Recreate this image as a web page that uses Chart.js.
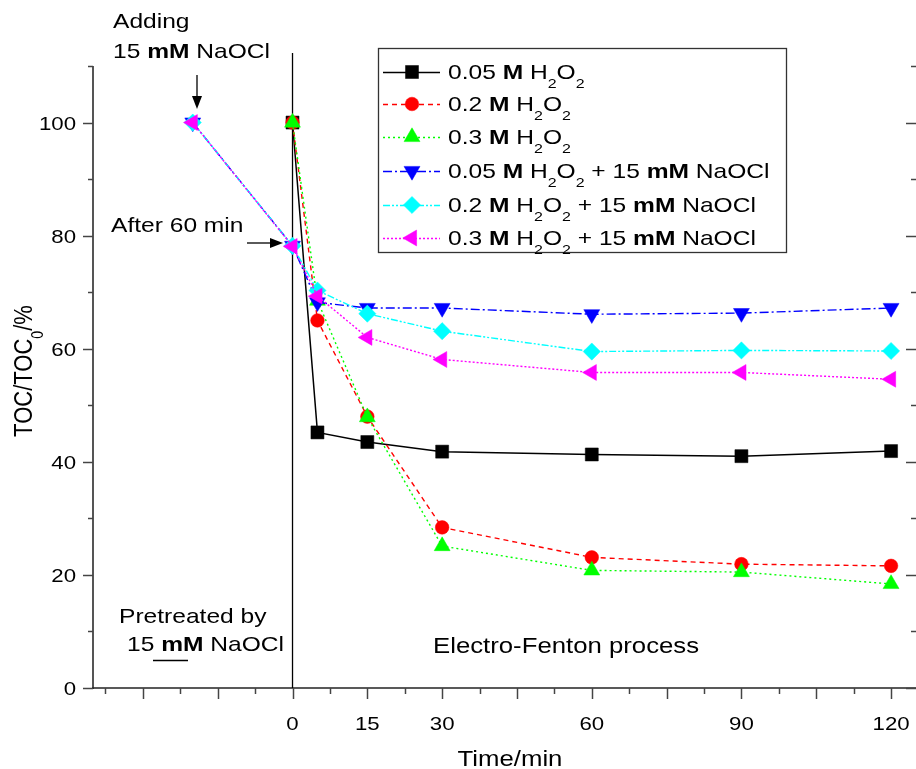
<!DOCTYPE html>
<html>
<head>
<meta charset="utf-8">
<script src="https://cdn.jsdelivr.net/npm/chart.js@4.4.0/dist/chart.umd.min.js"></script>
<style>
html,body{margin:0;padding:0;background:#fff;}
#wrap{width:916px;height:769px;}
</style>
</head>
<body>
<div id="wrap"><canvas id="c" width="916" height="769"></canvas></div>
<script>
// ---- data ----
const timeEF = [0, 5, 15, 30, 60, 90, 120];
const timeNaOCl = [-20, 0, 5, 15, 30, 60, 90, 120];
const h2o2_005 = [100, 45.2, 43.5, 41.8, 41.3, 41.0, 41.9];
const h2o2_02 = [100, 65.0, 48.0, 28.4, 23.1, 21.9, 21.6];
const h2o2_03 = [100, 68.5, 47.9, 25.1, 20.8, 20.5, 18.4];
const naocl_005 = [100, 78.2, 68.2, 67.2, 67.2, 66.1, 66.3, 67.2];
const naocl_02 = [100, 78.2, 70.3, 66.2, 63.1, 59.5, 59.7, 59.6];
const naocl_03 = [100, 78.1, 69.3, 62.0, 58.1, 55.8, 55.8, 54.6];
const concentrations = ['0.05', '0.2', '0.3', '0.05', '0.2', '0.3'];
const xTickLabels = [0, 15, 30, 60, 90, 120];
const yTickLabels = [0, 20, 40, 60, 80, 100];

const FONT = '"Liberation Sans", Arial, sans-serif';
const STRETCH = 1.17;

function pts(xs, ys) { return xs.map((x, i) => ({x: x, y: ys[i]})); }

const styles = [
  {color: '#000000', dash: [], width: 1.5, ps: 'rect', r: 9.2, rot: 0},
  {color: '#ff0000', dash: [5, 4], width: 1.4, ps: 'circle', r: 6.8, rot: 0},
  {color: '#00ff00', dash: [2, 3], width: 1.4, ps: 'triangle', r: 9.2, rot: 0},
  {color: '#0000ff', dash: [9, 3, 2, 3], width: 1.4, ps: 'triangle', r: 9.2, rot: 180},
  {color: '#00ffff', dash: [7, 2, 2, 2, 2, 2], width: 1.4, ps: 'rectRot', r: 8.6, rot: 0},
  {color: '#ff00ff', dash: [2, 2], width: 1.4, ps: 'triangle', r: 9.2, rot: 270}
];
const seriesData = [
  pts(timeEF, h2o2_005), pts(timeEF, h2o2_02), pts(timeEF, h2o2_03),
  pts(timeNaOCl, naocl_005), pts(timeNaOCl, naocl_02), pts(timeNaOCl, naocl_03)
];

const datasets = seriesData.map((d, i) => ({
  label: concentrations[i],
  data: d,
  borderColor: styles[i].color,
  backgroundColor: styles[i].color,
  borderWidth: styles[i].width,
  borderDash: styles[i].dash,
  pointStyle: styles[i].ps,
  pointRadius: styles[i].r,
  pointRotation: styles[i].rot,
  pointBackgroundColor: styles[i].color,
  pointBorderColor: styles[i].color,
  pointBorderWidth: 0.5,
  tension: 0,
  order: 5 - i,
  clip: false
}));

// rich text: segments {t, b (bold), s (subscript)}
function richWidth(ctx, segs, size) {
  let w = 0;
  segs.forEach(sg => {
    const sz = sg.s ? size * 0.65 : size;
    ctx.font = (sg.b ? 'bold ' : '') + sz + 'px ' + FONT;
    w += ctx.measureText(sg.t).width;
  });
  return w;
}
function drawRich(ctx, x, y, segs, size, align) {
  ctx.save();
  const w = richWidth(ctx, segs, size) * STRETCH;
  let x0 = x;
  if (align === 'center') x0 = x - w / 2;
  else if (align === 'right') x0 = x - w;
  ctx.translate(x0, y);
  ctx.scale(STRETCH, 1);
  ctx.fillStyle = '#000';
  ctx.textBaseline = 'alphabetic';
  ctx.textAlign = 'left';
  let cx = 0;
  segs.forEach(sg => {
    const sz = sg.s ? size * 0.65 : size;
    ctx.font = (sg.b ? 'bold ' : '') + sz + 'px ' + FONT;
    ctx.fillText(sg.t, cx, sg.s ? size * 0.42 : 0);
    cx += ctx.measureText(sg.t).width;
  });
  ctx.restore();
}

function drawMarker(ctx, st, x, y) {
  ctx.save();
  ctx.fillStyle = st.color;
  ctx.strokeStyle = st.color;
  ctx.lineWidth = 0.5;
  ctx.setLineDash([]);
  const r = st.r;
  let rad = st.rot * Math.PI / 180;
  ctx.beginPath();
  if (st.ps === 'circle') {
    ctx.arc(x, y, r, 0, Math.PI * 2);
  } else if (st.ps === 'rect') {
    const s = Math.SQRT1_2 * r;
    ctx.rect(x - s, y - s, 2 * s, 2 * s);
  } else if (st.ps === 'rectRot') {
    ctx.moveTo(x - r, y); ctx.lineTo(x, y - r); ctx.lineTo(x + r, y); ctx.lineTo(x, y + r);
  } else if (st.ps === 'triangle') {
    ctx.moveTo(x + Math.sin(rad) * r, y - Math.cos(rad) * r);
    rad += 2 * Math.PI / 3;
    ctx.lineTo(x + Math.sin(rad) * r, y - Math.cos(rad) * r);
    rad += 2 * Math.PI / 3;
    ctx.lineTo(x + Math.sin(rad) * r, y - Math.cos(rad) * r);
  }
  ctx.closePath();
  ctx.fill();
  ctx.stroke();
  ctx.restore();
}

function arrow(ctx, x1, y1, x2, y2) {
  ctx.save();
  ctx.strokeStyle = '#000';
  ctx.fillStyle = '#000';
  ctx.lineWidth = 1.3;
  const ang = Math.atan2(y2 - y1, x2 - x1);
  const hl = 13, hw = 5;
  const bx = x2 - Math.cos(ang) * hl, by = y2 - Math.sin(ang) * hl;
  ctx.beginPath(); ctx.moveTo(x1, y1); ctx.lineTo(bx, by); ctx.stroke();
  ctx.beginPath();
  ctx.moveTo(x2, y2);
  ctx.lineTo(bx + Math.sin(ang) * hw, by - Math.cos(ang) * hw);
  ctx.lineTo(bx - Math.sin(ang) * hw, by + Math.cos(ang) * hw);
  ctx.closePath(); ctx.fill();
  ctx.restore();
}

const decor = {
  id: 'decor',
  beforeDatasetsDraw(chart) {
    const ctx = chart.ctx;
    const xs = chart.scales.x, ys = chart.scales.y;
    const a = chart.chartArea;
    ctx.save();
    // left axis
    ctx.strokeStyle = '#555';
    ctx.lineWidth = 2;
    ctx.beginPath(); ctx.moveTo(a.left, a.top); ctx.lineTo(a.left, a.bottom + 1); ctx.stroke();
    // bottom axis
    ctx.strokeStyle = '#222';
    ctx.lineWidth = 1.5;
    ctx.beginPath(); ctx.moveTo(a.left - 1, a.bottom); ctx.lineTo(a.right, a.bottom); ctx.stroke();
    // y ticks (left outward, right inward)
    ctx.lineWidth = 1.5;
    ctx.strokeStyle = '#444';
    for (let v = 0; v <= 110; v += 10) {
      const py = Math.round(ys.getPixelForValue(v)) + 0.5;
      const major = v % 20 === 0;
      const len = major ? 10 : 5;
      ctx.beginPath(); ctx.moveTo(a.left - len, py); ctx.lineTo(a.left, py); ctx.stroke();
      ctx.beginPath(); ctx.moveTo(a.right - (major ? 10 : 5), py); ctx.lineTo(a.right, py); ctx.stroke();
    }
    // x ticks
    for (let v = -37.5; v <= 125; v += 7.5) {
      const px = Math.round(xs.getPixelForValue(v)) + 0.5;
      const major = Math.abs(v % 15) < 1e-6;
      const len = major ? 11 : 6;
      ctx.beginPath(); ctx.moveTo(px, a.bottom); ctx.lineTo(px, a.bottom + len); ctx.stroke();
    }
    // vertical divider at t = 0
    ctx.strokeStyle = '#000';
    ctx.lineWidth = 1.3;
    const x0 = xs.getPixelForValue(0);
    ctx.beginPath(); ctx.moveTo(x0, ys.getPixelForValue(112.3)); ctx.lineTo(x0, a.bottom); ctx.stroke();
    ctx.restore();

    // tick labels
    yTickLabels.forEach(v => {
      const py = ys.getPixelForValue(v);
      drawRich(ctx, 76, py + 7, [{t: String(v)}], 19, 'right');
    });
    xTickLabels.forEach(v => {
      drawRich(ctx, xs.getPixelForValue(v), 730, [{t: String(v)}], 19, 'center');
    });
    // axis titles
    drawRich(ctx, 510, 766, [{t: 'Time/min'}], 22, 'center');
    ctx.save();
    ctx.translate(32, 371);
    ctx.scale(STRETCH, 1);
    ctx.rotate(-Math.PI / 2);
    ctx.scale(1 / STRETCH, 1);
    drawRich(ctx, 0, 0, [{t: 'TOC/TOC'}, {t: '0', s: 1}, {t: '/%'}], 22, 'center');
    ctx.restore();

    // annotations
    drawRich(ctx, 113, 28, [{t: 'Adding'}], 21, 'left');
    drawRich(ctx, 113, 58, [{t: '15 '}, {t: 'mM', b: 1}, {t: ' NaOCl'}], 21, 'left');
    arrow(ctx, 197, 75, 197, 109);
    drawRich(ctx, 111, 232, [{t: 'After 60 min'}], 21, 'left');
    arrow(ctx, 247, 243, 283, 243);
    drawRich(ctx, 119, 623, [{t: 'Pretreated by'}], 21, 'left');
    drawRich(ctx, 127, 651, [{t: '15 '}, {t: 'mM', b: 1}, {t: ' NaOCl'}], 21, 'left');
    ctx.save();
    ctx.strokeStyle = '#000'; ctx.lineWidth = 1.3;
    ctx.beginPath(); ctx.moveTo(153, 660.5); ctx.lineTo(188, 660.5); ctx.stroke();
    ctx.restore();
    drawRich(ctx, 433, 653, [{t: 'Electro-Fenton process'}], 22, 'left');
  },
  afterDraw(chart) {
    const ctx = chart.ctx;
    // legend box
    ctx.save();
    ctx.strokeStyle = '#333';
    ctx.lineWidth = 1.3;
    ctx.strokeRect(378.5, 48.5, 408, 204);
    ctx.restore();
    const rowY = [72, 104, 137, 171, 205, 238];
    styles.forEach((st, i) => {
      const y = rowY[i];
      ctx.save();
      ctx.strokeStyle = st.color;
      ctx.lineWidth = st.width;
      ctx.setLineDash(st.dash);
      ctx.beginPath(); ctx.moveTo(383, y + 0.5); ctx.lineTo(440, y + 0.5); ctx.stroke();
      ctx.restore();
      drawMarker(ctx, st, 412, y);
      const segs = [{t: concentrations[i] + ' '}, {t: 'M', b: 1}, {t: ' H'}, {t: '2', s: 1}, {t: 'O'}, {t: '2', s: 1}];
      if (i >= 3) segs.push({t: ' + 15 '}, {t: 'mM', b: 1}, {t: ' NaOCl'});
      drawRich(ctx, 448, y + 7, segs, 21, 'left');
    });
  }
};

new Chart(document.getElementById('c'), {
  type: 'line',
  data: {datasets: datasets},
  options: {
    responsive: false,
    animation: false,
    layout: {autoPadding: false, padding: {left: 93, right: 0, top: 66, bottom: 81}},
    plugins: {legend: {display: false}, tooltip: {enabled: false}},
    scales: {
      x: {type: 'linear', min: -40, max: 125, display: false},
      y: {type: 'linear', min: 0, max: 110, display: false}
    }
  },
  plugins: [decor]
});
</script>
</body>
</html>
